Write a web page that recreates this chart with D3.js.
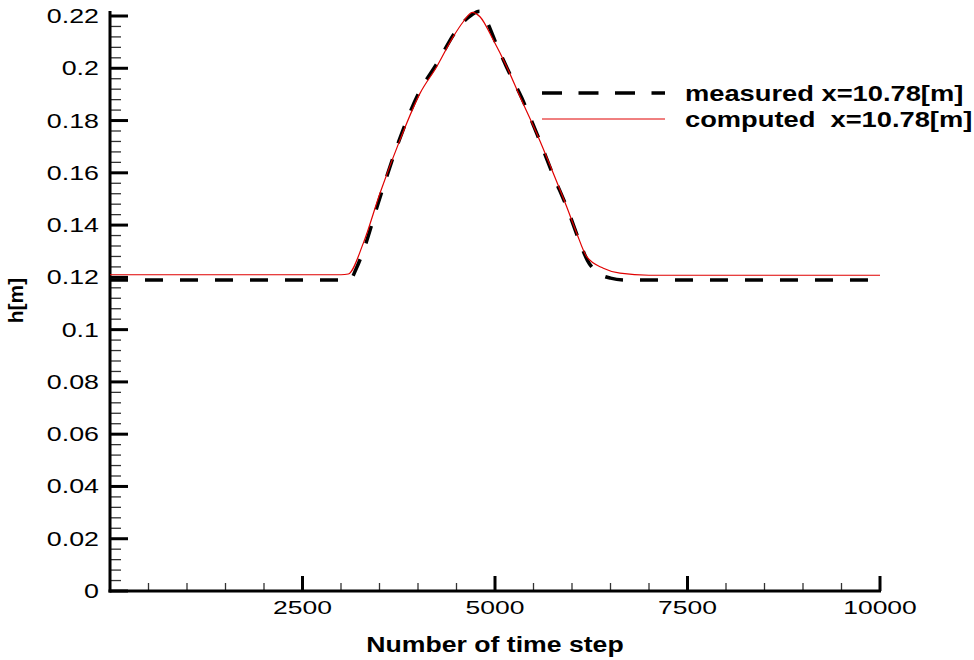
<!DOCTYPE html>
<html><head><meta charset="utf-8">
<script src="https://cdn.jsdelivr.net/npm/d3@7"></script>
<style>
html,body{margin:0;padding:0;background:#fff;}
svg text{font-family:"Liberation Sans",Arial,sans-serif;}
</style></head>
<body><svg id="chart" width="974" height="660"></svg>
<script>
// ---- data ----
const xTickValues = [2500, 5000, 7500, 10000];
const xTickLabels = ["2500", "5000", "7500", "10000"];
const yTickValues = [0, 0.02, 0.04, 0.06, 0.08, 0.1, 0.12, 0.14, 0.16, 0.18, 0.2, 0.22];
const yTickLabels = ["0", "0.02", "0.04", "0.06", "0.08", "0.1", "0.12", "0.14", "0.16", "0.18", "0.2", "0.22"];

const measuredSteps = [0, 1000, 2000, 3000, 3120, 3200, 3300, 3500, 3750, 4000, 4250, 4500, 4700, 4800, 4900, 5000, 5150, 5350, 5550, 5750, 5950, 6100, 6200, 6350, 6500, 6700, 8000, 10000];
const measuredH =     [0.119, 0.119, 0.119, 0.119, 0.1192, 0.1235, 0.131, 0.150, 0.172, 0.190, 0.202, 0.2145, 0.2205, 0.2218, 0.2175, 0.2105, 0.2005, 0.1885, 0.1745, 0.1595, 0.1455, 0.1335, 0.1265, 0.1215, 0.1197, 0.119, 0.119, 0.119];

const computedSteps = [0, 1000, 2000, 3000, 3095, 3290, 3506, 3766, 4026, 4243, 4458, 4588, 4705, 4805, 4978, 5152, 5325, 5541, 5757, 5931, 6061, 6191, 6407, 6623, 7000, 8000, 10000];
const computedH =     [0.121, 0.121, 0.121, 0.121, 0.1213, 0.1331, 0.1522, 0.1726, 0.1904, 0.2006, 0.2121, 0.2178, 0.2214, 0.2197, 0.2108, 0.2006, 0.1891, 0.1751, 0.1598, 0.1470, 0.1369, 0.1279, 0.1235, 0.1216, 0.1208, 0.1208, 0.1208];

const seriesNames = ["measured x=10.78[m]", "computed\u00a0 x=10.78[m]"];

// ---- chart ----
const svg = d3.select("#chart");
const x = d3.scaleLinear().domain([0, 10000]).range([110, 880]);
const y = d3.scaleLinear().domain([0, 0.22]).range([591, 16]);

// horizontally stretch text (reference uses wide glyphs)
function stretch(sel, k) {
  sel.each(function() {
    const w = this.getComputedTextLength();
    d3.select(this).attr("textLength", w * k).attr("lengthAdjust", "spacingAndGlyphs");
  });
}

const g = svg.append("g");

// minor ticks y
const yMinor = d3.range(0, 0.2201, 0.004).filter(v => Math.abs(Math.round(v / 0.02) * 0.02 - v) > 1e-6);
g.selectAll(".ymin").data(yMinor).join("line")
  .attr("x1", 110).attr("x2", 121)
  .attr("y1", d => y(d)).attr("y2", d => y(d))
  .attr("stroke", "#333").attr("stroke-width", 1.3);
g.selectAll(".ymaj").data(yTickValues).join("line")
  .attr("x1", 110).attr("x2", 128)
  .attr("y1", d => y(d)).attr("y2", d => y(d))
  .attr("stroke", "#000").attr("stroke-width", 3);
g.selectAll(".ylab").data(yTickValues).join("text")
  .attr("x", 99).attr("y", d => y(d) + 7)
  .attr("text-anchor", "end").attr("font-size", 20)
  .text((d, i) => yTickLabels[i])
  .call(stretch, 1.34);

// minor ticks x
const xMinor = d3.range(500, 10000, 500).filter(v => v % 2500 !== 0);
g.selectAll(".xmin").data(xMinor).join("line")
  .attr("x1", d => x(d)).attr("x2", d => x(d))
  .attr("y1", 591).attr("y2", 583)
  .attr("stroke", "#333").attr("stroke-width", 1.3);
g.selectAll(".xmaj").data(xTickValues).join("line")
  .attr("x1", d => x(d)).attr("x2", d => x(d))
  .attr("y1", 591).attr("y2", 576)
  .attr("stroke", "#000").attr("stroke-width", 3);
g.selectAll(".xlab").data(xTickValues).join("text")
  .attr("x", d => x(d)).attr("y", 613.5)
  .attr("text-anchor", "middle").attr("font-size", 18)
  .text((d, i) => xTickLabels[i])
  .call(stretch, 1.47);

// axis lines
g.append("line").attr("x1", 110).attr("x2", 110).attr("y1", 11).attr("y2", 592.5)
  .attr("stroke", "#000").attr("stroke-width", 3);
g.append("line").attr("x1", 108.5).attr("x2", 881).attr("y1", 591).attr("y2", 591)
  .attr("stroke", "#000").attr("stroke-width", 3);

// axis titles
svg.append("text").attr("x", 495).attr("y", 652).attr("text-anchor", "middle")
  .attr("font-size", 22).attr("font-weight", "bold").text("Number of time step")
  .call(stretch, 1.21);
svg.append("text").attr("transform", "translate(23,300.5) rotate(-90)")
  .attr("text-anchor", "middle").attr("font-size", 21).attr("font-weight", "bold").text("h[m]");

// lines
const line = d3.line().x(d => x(d[0])).y(d => y(d[1])).curve(d3.curveMonotoneX);
const measured = measuredSteps.map((s, i) => [s, measuredH[i]]);
const computed = computedSteps.map((s, i) => [s, computedH[i]]);

g.append("path").attr("d", line(measured)).attr("fill", "none")
  .attr("stroke", "#000").attr("stroke-width", 3.5).attr("stroke-dasharray", "18,17");
g.append("path").attr("d", line(computed)).attr("fill", "none")
  .attr("stroke", "#e00000").attr("stroke-width", 1.2);

// legend
const lg = svg.append("g");
lg.append("line").attr("x1", 542).attr("x2", 665).attr("y1", 93).attr("y2", 93)
  .attr("stroke", "#000").attr("stroke-width", 3.5).attr("stroke-dasharray", "20,16.5");
lg.append("line").attr("x1", 542).attr("x2", 665).attr("y1", 119).attr("y2", 119)
  .attr("stroke", "#e00000").attr("stroke-width", 1);
lg.append("text").attr("x", 685).attr("y", 101).attr("font-size", 22).attr("font-weight", "bold").text(seriesNames[0])
  .call(stretch, 1.24);
lg.append("text").attr("x", 685).attr("y", 127).attr("font-size", 22).attr("font-weight", "bold").text(seriesNames[1])
  .call(stretch, 1.24);
</script></body></html>
